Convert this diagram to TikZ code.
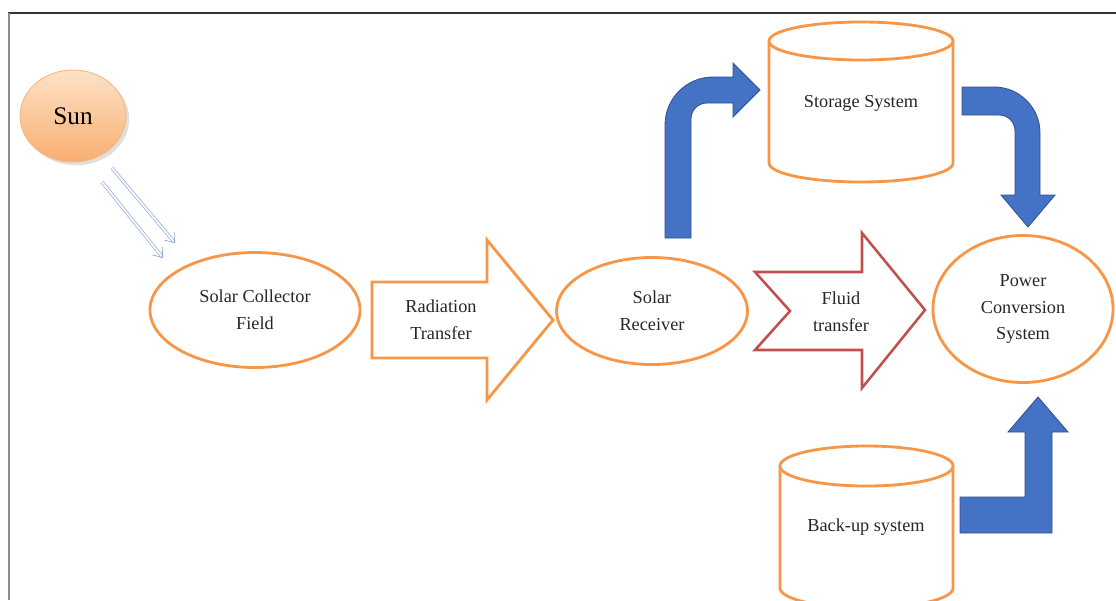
\documentclass[tikz,border=0pt]{standalone}
\usepackage{fontspec}
\setmainfont{Liberation Serif}
\usetikzlibrary{shapes.geometric, arrows.meta, shadows}
\definecolor{stageorange}{HTML}{F79646}
\definecolor{fluidred}{HTML}{C0504D}
\definecolor{flowblue}{HTML}{4472C4}
\definecolor{flowedge}{HTML}{2F528F}
\definecolor{raycol}{HTML}{8EA9DB}
\definecolor{sunlight}{HTML}{FDE2C8}
\definecolor{sundark}{HTML}{F9AE70}

\begin{document}
\begin{tikzpicture}[
        x=0.025cm, y=-0.025cm,
        stage/.style={draw=stageorange, line width=2pt, ellipse, inner sep=0pt,
                      align=center, font=\fontsize{13}{19}\selectfont, text=black!85},
        txt/.style={align=center, font=\fontsize{13}{19}\selectfont, text=black!85},
        tank/.style={draw=stageorange, line width=2pt},
        bendflow/.style={fill=flowblue, draw=flowedge, line width=0.6pt},
        ray/.style={draw=raycol, line width=0.5pt, double=white, double distance=1.3pt,
                    -{Straight Barb[length=6pt, width=9pt]}},
    ]
        \useasboundingbox (0,0) rectangle (1116,600);

        %--- frame ---
        \draw[black!80, line width=1.1pt] (8,13) -- (1116,13);
        \draw[black!45, line width=1.1pt] (9,13) -- (9,600);

        %--- sun and rays ---
        \node[ellipse, draw=stageorange!70, line width=0.6pt, top color=sunlight,
              bottom color=sundark, drop shadow={opacity=0.25}, minimum width=2.65cm,
              minimum height=2.3cm, inner sep=0pt, font=\fontsize{18}{20}\selectfont,
              text=black] (sun) at (73,116) {Sun};
        \coordinate (ray1a) at (112,168);
        \coordinate (ray1b) at (175,243);
        \coordinate (ray2a) at (102,182);
        \coordinate (ray2b) at (163,258);
        \draw[ray] (ray1a) -- (ray1b);
        \draw[ray] (ray2a) -- (ray2b);

        %--- main row ---
        \node[stage, minimum width=5.25cm, minimum height=2.875cm] (field)  at (255,310) {Solar Collector\\Field};
        \node[stage, minimum width=4.775cm, minimum height=2.675cm] (recv)  at (652,311) {Solar\\Receiver};
        \node[stage, minimum width=4.5cm, minimum height=3.675cm]  (power)  at (1023,309) {Power\\Conversion\\System};

        % radiation transfer
        \draw[draw=stageorange, line width=2pt, fill=white, line join=miter]
            (372,282) -- (487,282) -- (487,240) -- (553,320) -- (487,400)
            -- (487,358) -- (372,358) -- cycle;
        \node[txt] (rad) at (441,320) {Radiation\\Transfer};

        % fluid transfer
        \draw[draw=fluidred, line width=1.8pt, fill=white, line join=miter]
            (755,272) -- (862,272) -- (862,233) -- (925,310) -- (862,388)
            -- (862,350) -- (755,350) -- (790,311) -- cycle;
        \node[txt] (fluid) at (841,312) {Fluid\\transfer};

        %--- storage tank ---
        \draw[tank, fill=white] (769,41) -- (769,163) arc[start angle=180, end angle=360,
              x radius=2.3cm, y radius=0.475cm] -- (953,41);
        \draw[tank] (861,41) ellipse[x radius=2.3cm, y radius=0.475cm];
        \node[txt] (store) at (861,103) {Storage System};

        %--- back-up tank ---
        \draw[tank, fill=white] (780,466) -- (780,588) arc[start angle=180, end angle=360,
              x radius=2.1625cm, y radius=0.5cm] -- (953,466);
        \draw[tank] (866.5,466) ellipse[x radius=2.1625cm, y radius=0.5cm];
        \node[txt] (backup) at (866,527) {Back-up system};

        %--- bent flow arrows ---
        \draw[bendflow] (665,238) -- (665,125) .. controls (665,98) and (687,77) .. (713,77)
            -- (733,77) -- (733,63) -- (760,90) -- (733,117) -- (733,103) -- (707,103)
            .. controls (698,103) and (691,110) .. (691,119) -- (691,238) -- cycle;
        \draw[bendflow] (962,87) -- (994,87) .. controls (1020,87) and (1040,108) .. (1040,133)
            -- (1040,195) -- (1055,195) -- (1028,227) -- (1001,195) -- (1015,195)
            -- (1015,131) .. controls (1015,122) and (1008,115) .. (999,115) -- (962,115) -- cycle;
        \draw[bendflow] (960,497) -- (1025,497) -- (1025,432) -- (1008,432) -- (1038,397)
            -- (1068,432) -- (1052,432) -- (1052,533) -- (960,533) -- cycle;
    \end{tikzpicture}
\end{document}
